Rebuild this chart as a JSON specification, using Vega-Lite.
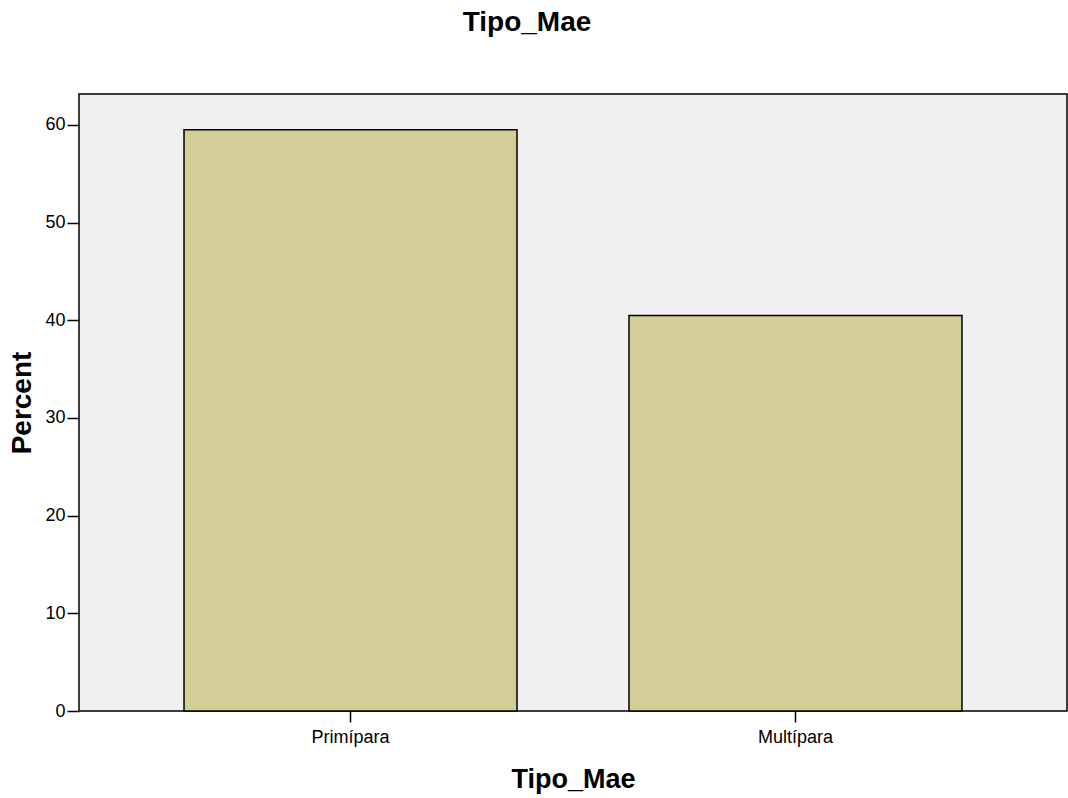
{
  "$schema": "https://vega.github.io/schema/vega-lite/v6.json",
  "autosize": "none",
  "width": 988,
  "height": 617,
  "padding": {"left": 79, "top": 94, "right": 1, "bottom": 87},
  "background": "white",
  "title": {
    "text": "Tipo_Mae",
    "font": "Liberation Sans",
    "fontSize": 28,
    "fontWeight": "bold",
    "color": "black",
    "anchor": "middle",
    "frame": "group",
    "dx": -46,
    "offset": 57
  },
  "config": {
    "view": {"fill": "#F0F0F0", "stroke": "black", "strokeWidth": 1.5},
    "axis": {
      "labelFont": "Liberation Sans",
      "titleFont": "Liberation Sans",
      "labelColor": "black",
      "titleColor": "black",
      "tickColor": "black",
      "domainColor": "black",
      "tickWidth": 1.5,
      "grid": false
    }
  },
  "data": {
    "values": [
      {"Tipo_Mae": "Primípara", "Percent": 59.5},
      {"Tipo_Mae": "Multípara", "Percent": 40.5}
    ]
  },
  "mark": {"type": "bar", "fill": "#D3CE97", "stroke": "black", "strokeWidth": 1.5},
  "encoding": {
    "x": {
      "field": "Tipo_Mae",
      "type": "nominal",
      "sort": ["Primípara", "Multípara"],
      "scale": {"paddingInner": 0.2517, "paddingOuter": 0.236},
      "axis": {
        "title": "Tipo_Mae",
        "titleFontSize": 27,
        "titleFontWeight": "bold",
        "titlePadding": 20,
        "labelAngle": 0,
        "labelFontSize": 18,
        "labelPadding": 6,
        "tickSize": 11,
        "domain": false
      }
    },
    "y": {
      "field": "Percent",
      "type": "quantitative",
      "scale": {"domain": [0, 63.17], "nice": false},
      "axis": {
        "title": "Percent",
        "titleFontSize": 28,
        "titleFontWeight": "bold",
        "titlePadding": 8,
        "values": [0, 10, 20, 30, 40, 50, 60],
        "labelFontSize": 18,
        "labelPadding": 2,
        "tickSize": 12,
        "domain": false
      }
    }
  }
}
